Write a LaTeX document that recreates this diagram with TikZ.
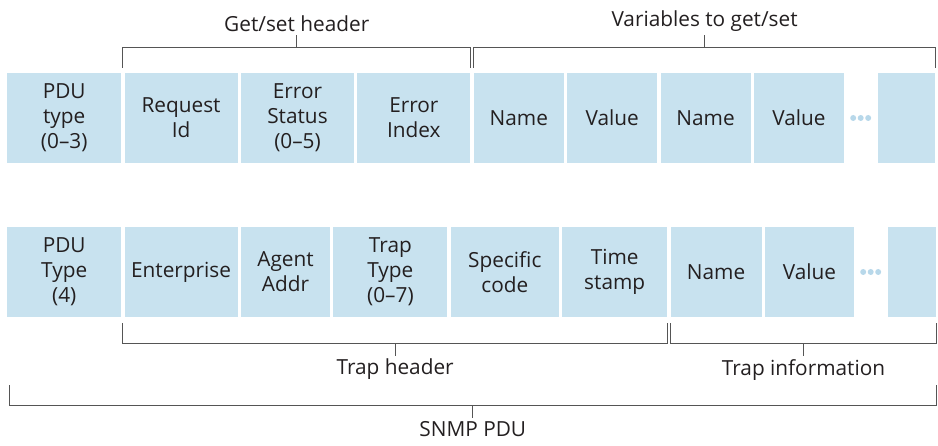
\documentclass[tikz,border=0pt]{standalone}
\usepackage{fontspec}
\setmainfont{Open Sans}
\usetikzlibrary{positioning}
\definecolor{fieldblue}{RGB}{200,226,239}
\definecolor{dotblue}{RGB}{184,216,234}
\definecolor{inkgray}{RGB}{35,31,32}
\definecolor{bracegray}{RGB}{85,85,85}

\begin{document}
\begin{tikzpicture}[
x=1pt,y=1pt,
node distance=3pt,
every node/.style={font=\fontsize{20.8}{25}\selectfont},
field/.style={fill=fieldblue,minimum height=90pt,inner sep=0pt,align=center,text=inkgray},
brace/.style={draw=bracegray,line width=.9pt},
caption/.style={text=inkgray,inner sep=2.5pt},
dot/.style={circle,fill=dotblue,inner sep=0pt,minimum size=6pt}
]
\useasboundingbox (0,0) rectangle (938,446);

% get/set PDU
\node[field,minimum width=114pt,anchor=west] (t1) at (7,328) {PDU\\type\\(0--3)};
\foreach \w/\t [count=\i from 2,remember=\i as \p (initially 1)] in {113/{Request\\Id},113/{Error\\Status\\(0--5)},113/{Error\\Index},90/Name,90/Value,90/Name,90/Value}{
\node[field,minimum width=\w pt,right=of t\p] (t\i) {\t};
}
\node[field,minimum width=57pt,right=34pt of t8] (t9) {};
\foreach \d[count=\k] in {9,16.5,24}
\node[dot] (td\k) at ([xshift=\d pt]t8.east) {};

\draw[brace] ([xshift=-1.5pt,yshift=5pt]t2.north west) |- coordinate[pos=.75] (gsm) ([yshift=25pt]t4.north east) -- ([yshift=5pt]t4.north east);
\draw[brace] (gsm) -- ++(0,13pt) node[caption,above] (gsh) {Get/set header};
\draw[brace] ([yshift=5pt]t5.north west) |- coordinate[pos=.75] (vm) ([yshift=25pt]t9.north east) -- ([yshift=5pt]t9.north east);
\draw[brace] (vm) -- ++(0,13pt) node[caption,above] (vgs) {Variables to get/set};

% trap PDU
\node[field,minimum width=114pt,anchor=west] (b1) at (7,174) {PDU\\Type\\(4)};
\foreach \w/\t [count=\i from 2,remember=\i as \p (initially 1)] in {113/Enterprise,89/{Agent\\Addr},114/{Trap\\Type\\(0--7)},108/{Specific\\code},105/{Time\\stamp},91/Name,89/Value}{
\node[field,minimum width=\w pt,right=of b\p] (b\i) {\t};
}
\node[field,minimum width=48pt,right=34pt of b8] (b9) {};
\foreach \d[count=\k] in {9,16.5,24}
\node[dot] (bd\k) at ([xshift=\d pt]b8.east) {};

\draw[brace] ([xshift=-1.5pt,yshift=-6pt]b2.south west) |- coordinate[pos=.75] (thm) ([yshift=-26pt]b6.south east) -- ([yshift=-6pt]b6.south east);
\draw[brace] (thm) -- ++(0,-13pt) node[caption,below] (thd) {Trap header};
\draw[brace] ([yshift=-6pt]b7.south west) |- coordinate[pos=.75] (tim) ([yshift=-26pt]b9.south east) -- ([yshift=-6pt]b9.south east);
\draw[brace] (tim) -- ++(0,-13pt) node[caption,below] (tin) {Trap information};

% whole PDU
\draw[brace] ([xshift=2pt,yshift=-68pt]b1.south west) |- coordinate[pos=.75] (pdm) ([yshift=-88pt]b9.south east) -- ([yshift=-68pt]b9.south east);
\draw[brace] (pdm) -- ++(0,-13pt) node[caption,below] (snmp) {SNMP PDU};

\end{tikzpicture}
\end{document}
